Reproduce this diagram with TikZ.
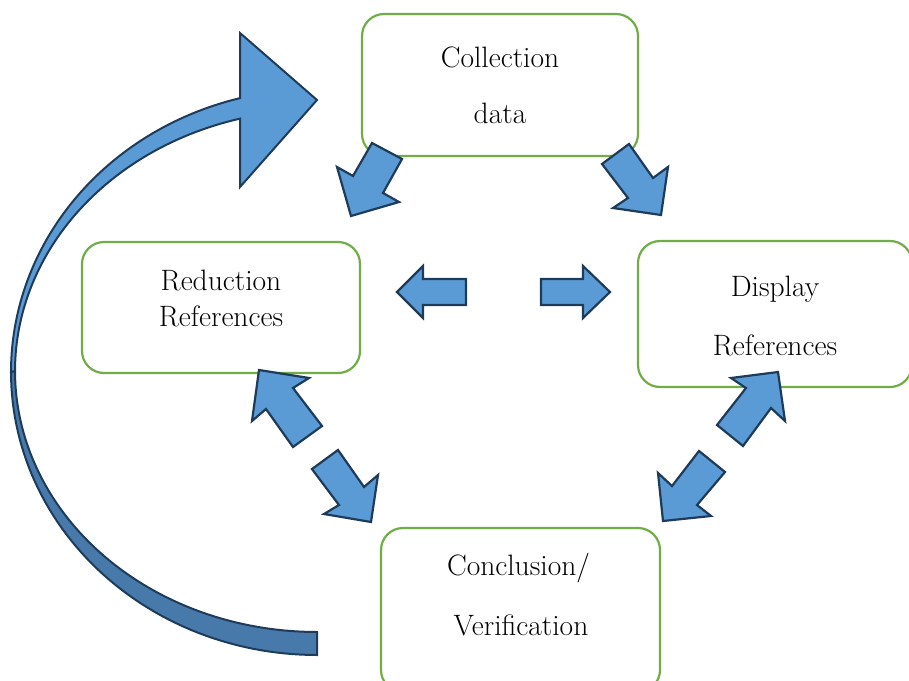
\documentclass[tikz,border=0pt]{standalone}
\usepackage{xcolor}
\definecolor{boxgreen}{HTML}{70AD47}
\definecolor{arrfill}{HTML}{5B9BD5}
\definecolor{arrdark}{HTML}{477AAB}
\definecolor{arrline}{HTML}{1F3B5A}
\begin{document}
\begin{tikzpicture}[x=1pt,y=-1pt,
  box/.style={draw=boxgreen, line width=2.2pt, rounded corners=22pt, fill=white, inner sep=0pt},
  lbl/.style={anchor=base, font=\fontsize{29.5}{34}\selectfont, inner sep=0pt, text=black},
  blockarrow/.style={fill=arrfill, draw=arrline, line width=2.2pt, line join=miter},
  curvelight/.style={fill=arrfill, draw=arrline, line width=2pt, line join=miter},
  curvedark/.style={fill=arrdark, draw=arrline, line width=2pt, line join=miter}]
\useasboundingbox (0,0) rectangle (909,680);
\clip (0,0) rectangle (909,680);

% boxes
\node[box, minimum width=276pt, minimum height=142pt] (collect) at (500,85) {};
\node[box, minimum width=278pt, minimum height=131pt] (reduct) at (221,307.5) {};
\node[box, minimum width=274pt, minimum height=146pt] (display) at (775,314) {};
\node[box, minimum width=279pt, minimum height=164pt] (concl) at (520.5,610) {};

% labels
\node[lbl] (t1) at (500,67) {Collection};
\node[lbl] (t2) at (500,123) {data};
\node[lbl] (t3) at (221,290) {Reduction};
\node[lbl] (t4) at (221,326) {References};
\node[lbl] (t5) at (775,296) {Display};
\node[lbl] (t6) at (775,355) {References};
\node[lbl] (t7) at (518.5,575) {Conclusion/};
\node[lbl] (t8) at (521,635) {Verification};

% block arrows
\draw[blockarrow] (372,143) -- (402,159) -- (383,193) -- (399,202) -- (351,216) -- (337,167) -- (353,176) -- cycle;
\draw[blockarrow] (629,144) -- (602,164) -- (628,198) -- (613,208) -- (661,215) -- (668,167) -- (653,178) -- cycle;
\draw[blockarrow] (397,292) -- (423,266) -- (423,279) -- (466,279) -- (466,305) -- (423,305) -- (423,318) -- cycle;
\draw[blockarrow] (610,292) -- (583,266) -- (583,279) -- (541,279) -- (541,305) -- (583,305) -- (583,318) -- cycle;
\draw[blockarrow] (259,370) -- (309,378) -- (293,388) -- (322,426) -- (293,447) -- (266,409) -- (252,421) -- cycle;
\draw[blockarrow] (338,450) -- (312,469) -- (339,505) -- (324,514) -- (371,522) -- (378,475) -- (364,487) -- cycle;
\draw[blockarrow] (778,372) -- (731,378) -- (746,388) -- (717,425) -- (743,446) -- (771,408) -- (785,421) -- cycle;
\draw[blockarrow] (663,521) -- (711,516) -- (697,505) -- (725,472) -- (699,451) -- (672,486) -- (658,473) -- cycle;

% curved arrow: lower (darker) part
\draw[curvedark] plot[domain=-180:-270, samples=60] ({317+306*cos(\x)},{372+283*sin(\x)})
  -- plot[domain=-270:-180, samples=60] ({317+302*cos(\x)},{371+261*sin(\x)}) -- cycle;
% curved arrow: upper (light) part with head
\draw[curvelight] plot[domain=-180:-104.77, samples=60] ({317+302*cos(\x)},{371+261*sin(\x)})
  -- (240,187) -- (317,100) -- (240,33) -- (240,98)
  -- plot[domain=-104.57:-180, samples=60] ({317+306*cos(\x)},{372+283*sin(\x)}) -- cycle;
\end{tikzpicture}
\end{document}
